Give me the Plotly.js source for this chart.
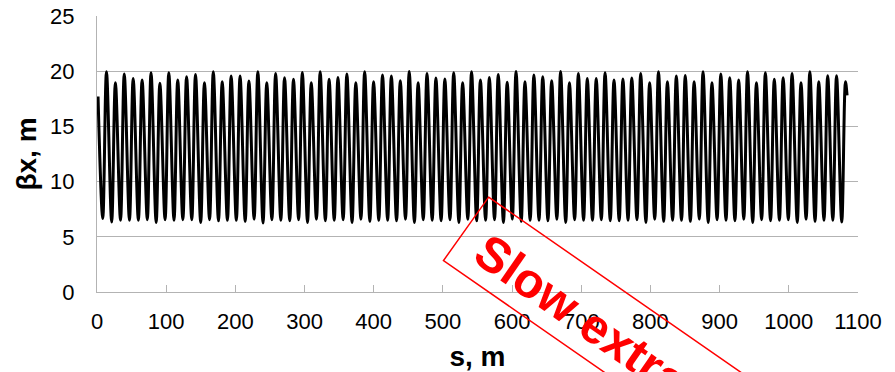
<!DOCTYPE html>
<html>
<head>
<meta charset="utf-8">
<script src="https://cdn.plot.ly/plotly-3.0.1.min.js"></script>
<style>
  html, body { margin: 0; padding: 0; background: #ffffff; }
  #chart { width: 895px; height: 372px; }
</style>
</head>
<body>
<div id="chart"></div>
<script>
// ---- Data ----
// start / end of the lattice function
const sStart = 1.5;
const betaStart = 17.7;
const sEnd = 1084.2;
const betaEnd = 17.8;

// local minima of beta_x
const sTrough = [8.3, 21.2, 34.0, 46.9, 59.8, 72.7, 85.5, 98.4, 111.3, 124.1, 137.0, 149.9, 162.7, 175.6, 188.5, 201.4, 214.2, 227.1, 240.0, 252.8, 265.7, 278.6, 291.4, 304.3, 317.2, 330.1, 342.9, 355.8, 368.7, 381.5, 394.4, 407.3, 420.1, 433.0, 445.9, 458.8, 471.6, 484.5, 497.4, 510.2, 523.1, 536.0, 548.8, 561.7, 574.6, 587.5, 600.3, 613.2, 626.1, 638.9, 651.8, 664.7, 677.5, 690.4, 703.3, 716.2, 729.0, 741.9, 754.8, 767.6, 780.5, 793.4, 806.2, 819.1, 832.0, 844.9, 857.7, 870.6, 883.5, 896.3, 909.2, 922.1, 934.9, 947.8, 960.7, 973.6, 986.4, 999.3, 1012.2, 1025.0, 1037.9, 1050.8, 1063.6, 1076.5];
const betaTrough = [6.65, 6.35, 6.5, 6.5, 6.5, 6.55, 6.3, 6.55, 6.5, 6.55, 6.55, 6.3, 6.55, 6.45, 6.5, 6.5, 6.4, 6.6, 6.25, 6.55, 6.5, 6.45, 6.55, 6.3, 6.6, 6.45, 6.5, 6.55, 6.3, 6.6, 6.4, 6.5, 6.5, 6.45, 6.6, 6.3, 6.55, 6.5, 6.45, 6.55, 6.3, 6.6, 6.45, 6.5, 6.55, 6.3, 6.6, 6.4, 6.5, 6.5, 6.45, 6.6, 6.3, 6.55, 6.5, 6.5, 6.55, 6.45, 6.45, 6.5, 6.55, 6.3, 6.6, 6.4, 6.5, 6.5, 6.4, 6.6, 6.3, 6.55, 6.5, 6.45, 6.6, 6.3, 6.55, 6.45, 6.5, 6.55, 6.3, 6.6, 6.4, 6.5, 6.5, 6.35];

// local maxima of beta_x
const sPeak = [13.7, 26.6, 39.4, 52.3, 65.2, 78.1, 90.9, 103.8, 116.7, 129.5, 142.4, 155.3, 168.1, 181.0, 193.9, 206.8, 219.6, 232.5, 245.4, 258.2, 271.1, 284.0, 296.8, 309.7, 322.6, 335.5, 348.3, 361.2, 374.1, 386.9, 399.8, 412.7, 425.5, 438.4, 451.3, 464.2, 477.0, 489.9, 502.8, 515.6, 528.5, 541.4, 554.2, 567.1, 580.0, 592.9, 605.7, 618.6, 631.5, 644.3, 657.2, 670.1, 682.9, 695.8, 708.7, 721.6, 734.4, 747.3, 760.2, 773.0, 785.9, 798.8, 811.6, 824.5, 837.4, 850.3, 863.1, 876.0, 888.9, 901.7, 914.6, 927.5, 940.3, 953.2, 966.1, 979.0, 991.8, 1004.7, 1017.6, 1030.4, 1043.3, 1056.2, 1069.0, 1081.9];
const betaPeak = [19.95, 18.96, 19.74, 19.35, 19.2, 19.86, 18.9, 19.86, 19.2, 19.5, 19.71, 18.96, 19.95, 19.05, 19.56, 19.56, 19.11, 19.95, 18.96, 19.8, 19.41, 19.26, 19.89, 18.96, 19.95, 19.26, 19.44, 19.74, 18.96, 19.95, 19.05, 19.65, 19.56, 19.14, 19.98, 18.96, 19.8, 19.38, 19.29, 19.86, 18.96, 19.95, 19.2, 19.44, 19.71, 18.99, 19.98, 19.05, 19.65, 19.5, 19.14, 19.98, 18.96, 19.8, 19.35, 19.35, 19.86, 19.2, 19.29, 19.38, 19.8, 18.96, 19.95, 19.05, 19.56, 19.62, 19.05, 19.95, 18.96, 19.74, 19.4, 19.2, 19.95, 18.96, 19.86, 19.26, 19.41, 19.8, 18.96, 19.95, 19.05, 19.59, 19.59, 19.05];

const xTickVals = [0, 100, 200, 300, 400, 500, 600, 700, 800, 900, 1000, 1100];
const yTickVals = [0, 5, 10, 15, 20, 25];
const xTitle = 's, m';
const yTitle = 'βx, m';
const stampText = 'Slow extraction';

// ---- Build the trace (interleave minima and maxima) ----
const xs = [sStart];
const ys = [betaStart];
for (let i = 0; i < sPeak.length; i++) {
  xs.push(sTrough[i]); ys.push(betaTrough[i]);
  xs.push(sPeak[i]); ys.push(betaPeak[i]);
}
xs.push(sEnd); ys.push(betaEnd);

const FONT = '"Liberation Sans", Arial, sans-serif';
const GRID = '#b3b3b3';

const trace = {
  x: xs, y: ys,
  type: 'scatter', mode: 'lines',
  line: { color: '#000000', width: 3, shape: 'spline', smoothing: 1 },
  hoverinfo: 'skip'
};

// stamp box (rotated rectangle) in paper coordinates
const boxPath = 'M 0.5146 0.3436 L 0.9512 -0.4922 L 0.8918 -0.7219 L 0.4553 0.1139 Z';

const layout = {
  width: 895, height: 372,
  margin: { l: 96.5, r: 36.8, t: 16, b: 79.5, pad: 0 },
  paper_bgcolor: '#ffffff', plot_bgcolor: '#ffffff',
  showlegend: false,
  font: { family: FONT, color: '#000000', size: 22 },
  xaxis: {
    range: [0, 1100], tickvals: xTickVals, ticktext: xTickVals.map(String),
    showgrid: false, zeroline: false,
    showline: true, linecolor: GRID, linewidth: 1,
    ticks: 'inside', ticklen: 7, tickcolor: GRID, tickwidth: 1,
    tickfont: { family: FONT, size: 22, color: '#000000' },
    ticklabelstandoff: 10,
    title: { text: xTitle, font: { family: FONT, size: 28, color: '#000000', weight: 'bold' }, standoff: 12 },
    automargin: false, fixedrange: true
  },
  yaxis: {
    range: [0, 25], tickvals: yTickVals, ticktext: yTickVals.map(String),
    showgrid: true, gridcolor: GRID, gridwidth: 1,
    zeroline: false,
    showline: true, linecolor: GRID, linewidth: 1,
    ticks: '',
    tickfont: { family: FONT, size: 22, color: '#000000' },
    ticklabelstandoff: 17,
    title: { text: yTitle, font: { family: FONT, size: 28, color: '#000000', weight: 'bold' }, standoff: 5 },
    automargin: false, fixedrange: true
  },
  shapes: [{
    type: 'path', xref: 'paper', yref: 'paper', path: boxPath,
    line: { color: '#ff0000', width: 1.5 }, fillcolor: 'rgba(0,0,0,0)', layer: 'above'
  }],
  annotations: [{
    xref: 'paper', yref: 'paper', x: 0.6988, y: -0.2072,
    xanchor: 'center', yanchor: 'middle',
    text: stampText, showarrow: false, textangle: 34.8,
    font: { family: FONT, size: 49, color: '#ff0000', weight: 'bold' }
  }]
};

Plotly.newPlot('chart', [trace], layout, { displayModeBar: false, staticPlot: true });
</script>
</body>
</html>
